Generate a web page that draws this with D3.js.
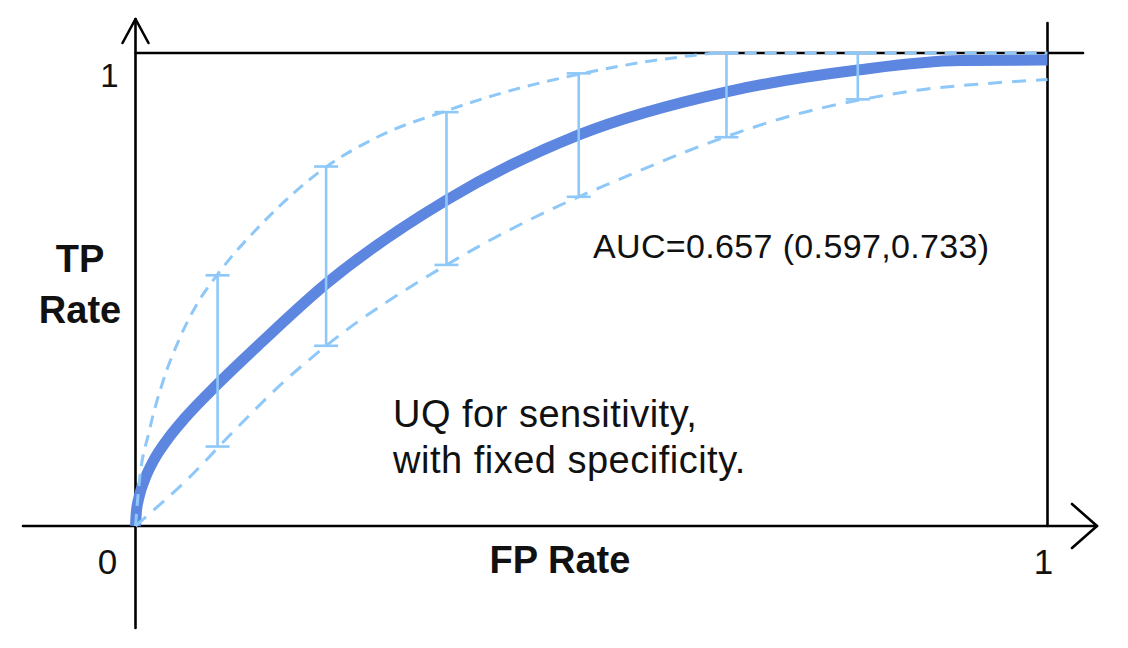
<!DOCTYPE html>
<html><head><meta charset="utf-8">
<script src="https://cdn.jsdelivr.net/npm/d3@7"></script>
<style>
html,body{margin:0;padding:0;background:#fff;}
text{font-family:"Liberation Sans",Arial,Helvetica,sans-serif;fill:#111;}
</style></head>
<body>
<svg id="chart" width="1128" height="648"></svg>
<script>
// ---- data (FP rate, TP rate) ----
const mainFpr = [0, 0.001, 0.004, 0.010, 0.020, 0.035, 0.055, 0.090, 0.139, 0.209, 0.341, 0.486, 0.648, 0.792, 0.904, 1.0];
const mainTpr = [0, 0.031, 0.062, 0.098, 0.139, 0.183, 0.230, 0.300, 0.390, 0.512, 0.689, 0.827, 0.918, 0.964, 0.984, 0.985];

const upperFpr = [0, 0.004, 0.015, 0.030, 0.048, 0.067, 0.090, 0.139, 0.209, 0.268, 0.341, 0.410, 0.486, 0.583, 0.648, 1.0];
const upperTpr = [0, 0.090, 0.200, 0.305, 0.395, 0.468, 0.532, 0.640, 0.759, 0.825, 0.878, 0.920, 0.955, 0.988, 1.0, 1.0];

const lowerFpr = [0, 0.0077, 0.056, 0.106, 0.161, 0.209, 0.341, 0.486, 0.516, 0.646, 0.720, 0.792, 0.860, 0.930, 1.0];
const lowerTpr = [0, 0.013, 0.097, 0.197, 0.302, 0.381, 0.552, 0.696, 0.721, 0.822, 0.868, 0.900, 0.922, 0.935, 0.944];

const barFpr   = [0.090, 0.209, 0.341, 0.486, 0.648, 0.792];
const barLow   = [0.168, 0.381, 0.552, 0.696, 0.822, 0.902];
const barHigh  = [0.530, 0.760, 0.875, 0.957, 1.0, 1.0];

const xTickLabels = ["0", "1"];
const yTickLabels = ["1"];
const xTitle = "FP Rate";
const yTitle = ["TP", "Rate"];
const aucText = "AUC=0.657 (0.597,0.733)";
const noteLines = ["UQ for sensitivity,", "with fixed specificity."];

// ---- drawing ----
const svg = d3.select("#chart");
const x = d3.scaleLinear().domain([0, 1]).range([135.5, 1047.5]);
const y = d3.scaleLinear().domain([0, 1]).range([526, 53]);

const MAIN = "#5c86e0", LIGHT = "#8ec8f8";
const zip = (a, b) => a.map((v, i) => [v, b[i]]);
const line = d3.line().x(d => x(d[0])).y(d => y(d[1])).curve(d3.curveMonotoneX);

// axes / frame
const ax = svg.append("g").attr("stroke", "#000").attr("stroke-width", 2.6).attr("fill", "none")
  .attr("stroke-linecap", "round").attr("stroke-linejoin", "round");
ax.append("line").attr("x1", x(0)).attr("x2", x(0)).attr("y1", 19).attr("y2", 628);
ax.append("path").attr("d", `M${x(0)-13},43 L${x(0)},19 L${x(0)+13},43`);
ax.append("line").attr("x1", 23).attr("x2", 1097).attr("y1", y(0)).attr("y2", y(0));
ax.append("path").attr("d", `M1072,${y(0)-22} L1097,${y(0)} L1072,${y(0)+22}`);
ax.append("line").attr("x1", x(0)).attr("x2", 1083).attr("y1", y(1)).attr("y2", y(1));
ax.append("line").attr("x1", x(1)).attr("x2", x(1)).attr("y1", 23).attr("y2", y(0));

// main ROC curve
svg.append("path").datum(zip(mainFpr, mainTpr)).attr("d", line)
  .attr("fill", "none").attr("stroke", MAIN).attr("stroke-width", 11).attr("stroke-linecap", "butt");

// confidence curves
svg.append("path").datum(zip(upperFpr, upperTpr)).attr("d", line)
  .attr("fill", "none").attr("stroke", LIGHT).attr("stroke-width", 3).attr("stroke-dasharray", "12,8");
svg.append("path").datum(zip(lowerFpr, lowerTpr)).attr("d", line)
  .attr("fill", "none").attr("stroke", LIGHT).attr("stroke-width", 3).attr("stroke-dasharray", "14,10");

// error bars
const bars = svg.append("g").attr("stroke", LIGHT).attr("stroke-width", 2.6);
barFpr.forEach((f, i) => {
  bars.append("line").attr("x1", x(f)).attr("x2", x(f)).attr("y1", y(barHigh[i])).attr("y2", y(barLow[i]));
  bars.append("line").attr("x1", x(f) - 12).attr("x2", x(f) + 12).attr("y1", y(barHigh[i])).attr("y2", y(barHigh[i]));
  bars.append("line").attr("x1", x(f) - 12).attr("x2", x(f) + 12).attr("y1", y(barLow[i])).attr("y2", y(barLow[i]));
});

// tick labels
svg.append("text").attr("x", x(0) - 28).attr("y", 574).attr("text-anchor", "middle")
  .attr("font-size", 35).text(xTickLabels[0]);
svg.append("text").attr("x", x(1) - 4).attr("y", 574).attr("text-anchor", "middle")
  .attr("font-size", 35).text(xTickLabels[1]);
svg.append("text").attr("x", x(0) - 26).attr("y", y(1) + 34).attr("text-anchor", "middle")
  .attr("font-size", 33).text(yTickLabels[0]);

// titles
svg.append("text").attr("x", 560).attr("y", 573).attr("text-anchor", "middle")
  .attr("font-size", 38).attr("font-weight", "bold").text(xTitle);
yTitle.forEach((t, i) => svg.append("text").attr("x", 80).attr("y", 272 + i * 51)
  .attr("text-anchor", "middle").attr("font-size", 38).attr("font-weight", "bold").text(t));

// annotations
svg.append("text").attr("x", 593).attr("y", 258).attr("font-size", 34)
  .attr("letter-spacing", 0.35).text(aucText);
noteLines.forEach((t, i) => svg.append("text").attr("x", 393).attr("y", 427 + i * 46)
  .attr("font-size", 38).attr("letter-spacing", 0.5).text(t));
</script>
</body></html>
